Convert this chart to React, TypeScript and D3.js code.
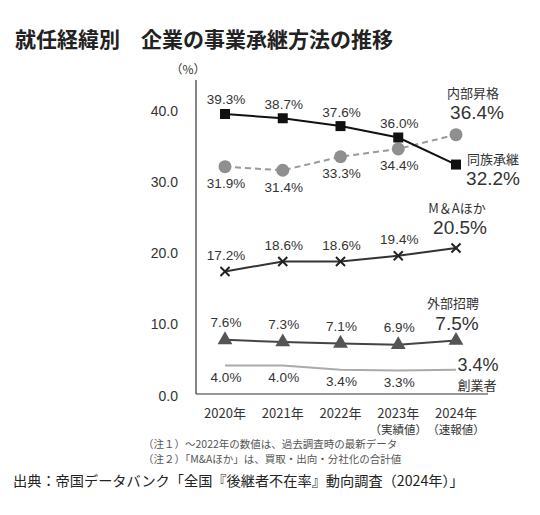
import React from "react";
import * as d3 from "d3";

const years = ["2020年", "2021年", "2022年", "2023年", "2024年"];
const yearNotes = ["", "", "", "（実績値）", "（速報値）"];
const yTicks = [0, 10, 20, 30, 40];

const family = [39.3, 38.7, 37.6, 36.0, 32.2]; // 同族承継
const internal = [31.9, 31.4, 33.3, 34.4, 36.4]; // 内部昇格
const mna = [17.2, 18.6, 18.6, 19.4, 20.5]; // M&Aほか
const external = [7.6, 7.3, 7.1, 6.9, 7.5]; // 外部招聘
const founder = [4.0, 4.0, 3.4, 3.3, 3.4]; // 創業者

const notes = [
  "（注１）～2022年の数値は、過去調査時の最新データ",
  "（注２）「M&Aほか」は、買取・出向・分社化の合計値",
];
const source = "出典：帝国データバンク「全国『後継者不在率』動向調査（2024年）」";

const W = 540;
const H = 515;
const sans = "'Liberation Sans', Arial, 'Noto Sans CJK JP', sans-serif";
const jp = "'Noto Sans CJK JP', sans-serif";

const x = d3.scalePoint<string>().domain(years).range([225, 456]);
const y = d3.scaleLinear().domain([0, 40]).range([394, 109]);

const line = d3
  .line<number>()
  .x((_, i) => x(years[i]) as number)
  .y((d) => y(d));

const fmt = (v: number) => `${v.toFixed(1)}%`;

const App: React.FC = () => {
  const xl = x(years[4]) as number;
  const valueLabels = (vals: number[], dy: number) =>
    vals.slice(0, 4).map((v, i) => (
      <text
        key={i}
        x={(x(years[i]) as number) + 1}
        y={y(v) + dy}
        textAnchor="middle"
        dominantBaseline="central"
        fontSize={13.5}
        fill="#333"
        fontFamily={sans}
      >
        {fmt(v)}
      </text>
    ));

  const endLabel = (
    name: string,
    v: number,
    nx: number,
    ny: number,
    vx: number,
    vy: number,
  ) => (
    <g>
      <text x={xl + nx} y={y(v) + ny} textAnchor="middle" dominantBaseline="central" fontSize={13} fill="#333" fontFamily={jp}>
        {name}
      </text>
      <text x={xl + vx} y={y(v) + vy} textAnchor="middle" dominantBaseline="central" fontSize={19} fill="#333" fontFamily={sans}>
        {fmt(v)}
      </text>
    </g>
  );

  const tri = d3.symbol(d3.symbolTriangle, 95)();
  const cross = d3.symbol(d3.symbolX, 55)();

  return (
    <svg width={W} height={H} style={{ position: "absolute", left: 0, top: 0, background: "#fff" }}>
      <rect width={W} height={H} fill="#fff" />
      <text x={15} y={38} fontSize={21} fontWeight={700} fill="#222" fontFamily={jp} dominantBaseline="central">
        就任経緯別　企業の事業承継方法の推移
      </text>

      {/* axes */}
      <text x={188} y={68} textAnchor="middle" dominantBaseline="central" fontSize={12} fill="#333" fontFamily={jp}>
        （%）
      </text>
      <line x1={196} x2={196} y1={80} y2={y(0)} stroke="#333" strokeWidth={1.2} />
      <line x1={196} x2={488} y1={y(0)} y2={y(0)} stroke="#333" strokeWidth={1.2} />
      {yTicks.map((t) => (
        <text key={t} x={178} y={y(t) + 1.5} textAnchor="end" dominantBaseline="central" fontSize={14} fill="#333" fontFamily={sans}>
          {t.toFixed(1)}
        </text>
      ))}
      {years.map((yr, i) => (
        <g key={yr}>
          <text x={x(yr)} y={412} textAnchor="middle" dominantBaseline="central" fontSize={13} fill="#333" fontFamily={jp}>
            {yr}
          </text>
          {yearNotes[i] && (
            <text x={x(yr)} y={428.5} textAnchor="middle" dominantBaseline="central" fontSize={11.5} fill="#333" fontFamily={jp}>
              {yearNotes[i]}
            </text>
          )}
        </g>
      ))}

      {/* 創業者 */}
      <path d={line(founder) ?? ""} fill="none" stroke="#aaa" strokeWidth={2} />
      {valueLabels(founder, 12)}

      {/* 外部招聘 */}
      <path d={line(external) ?? ""} fill="none" stroke="#444" strokeWidth={2} />
      {external.map((v, i) => (
        <path key={i} d={tri ?? ""} transform={`translate(${x(years[i])},${y(v)})`} fill="#555" />
      ))}
      {valueLabels(external, -17)}

      {/* M&Aほか */}
      <path d={line(mna) ?? ""} fill="none" stroke="#333" strokeWidth={2} />
      {mna.map((v, i) => (
        <path key={i} d={cross ?? ""} transform={`translate(${x(years[i])},${y(v)})`} fill="none" stroke="#222" strokeWidth={2} />
      ))}
      {valueLabels(mna, -16)}

      {/* 内部昇格 */}
      <path d={line(internal) ?? ""} fill="none" stroke="#999" strokeWidth={2} strokeDasharray="6,4" />
      {internal.map((v, i) => (
        <circle key={i} cx={x(years[i])} cy={y(v)} r={6.5} fill="#8f8f8f" />
      ))}
      {valueLabels(internal, 17)}

      {/* 同族承継 */}
      <path d={line(family) ?? ""} fill="none" stroke="#111" strokeWidth={2} />
      {family.map((v, i) => (
        <rect key={i} x={(x(years[i]) as number) - 5} y={y(v) - 5} width={10} height={10} fill="#111" />
      ))}
      {valueLabels(family, -14)}

      {endLabel("内部昇格", internal[4], 17, -42, 21, -22)}
      {endLabel("同族承継", family[4], 37, -6, 37, 14)}
      {endLabel("M＆Aほか", mna[4], 1, -40, 4, -20)}
      {endLabel("外部招聘", external[4], -3, -38, 1, -17)}
      <text x={xl + 22} y={y(founder[4]) - 5} textAnchor="middle" dominantBaseline="central" fontSize={18} fill="#333" fontFamily={sans}>
        {fmt(founder[4])}
      </text>
      <text x={xl + 21} y={y(founder[4]) + 15} textAnchor="middle" dominantBaseline="central" fontSize={13} fill="#333" fontFamily={jp}>
        創業者
      </text>

      {notes.map((n, i) => (
        <text key={i} x={143} y={443 + i * 15} dominantBaseline="central" fontSize={10.5} fill="#555" fontFamily={jp}>
          {n}
        </text>
      ))}
      <text x={13} y={480} dominantBaseline="central" fontSize={14.2} fill="#222" fontFamily={jp}>
        {source}
      </text>
    </svg>
  );
};

export default App;
